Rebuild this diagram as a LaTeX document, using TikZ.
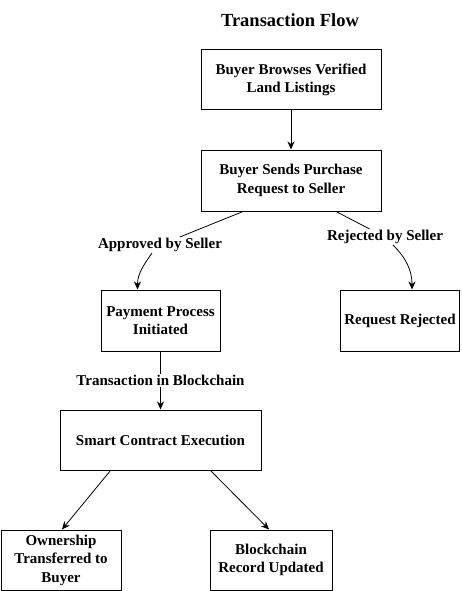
\documentclass[tikz,border=0pt]{standalone}
\usepackage{fontspec}
\setmainfont{Liberation Serif}
\usetikzlibrary{arrows.meta}
\begin{document}
\begin{tikzpicture}[x=1pt,y=-1pt,
  every node/.style={font=\fontsize{15}{18.5}\selectfont\bfseries, align=center},
  box/.style={draw, line width=1pt, rectangle, inner sep=2pt},
  lbl/.style={fill=white, inner sep=1pt},
  arr/.style={line width=0.8pt, -{Stealth[length=8pt,width=7pt,inset=2.5pt]}},
  ln/.style={line width=0.8pt}]
\useasboundingbox (0,0) rectangle (461,591);
\node (title) at (290,20) {\fontsize{18.5}{21}\selectfont Transaction Flow};
\node[box, minimum width=180pt, minimum height=60pt] (b1) at (291,80) {Buyer Browses Verified\\Land Listings};
\node[box, minimum width=180pt, minimum height=61pt] (b2) at (291,180.5) {Buyer Sends Purchase\\Request to Seller};
\node[box, minimum width=119pt, minimum height=61pt] (b3) at (160.5,320.5) {Payment Process\\Initiated};
\node[box, minimum width=119pt, minimum height=61pt] (b4) at (400,320.5) {Request Rejected};
\node[box, minimum width=201pt, minimum height=60pt] (b5) at (160.5,440) {Smart Contract Execution};
\node[box, minimum width=120pt, minimum height=60pt] (b6) at (61,560) {Ownership\\Transferred to\\Buyer};
\node[box, minimum width=122pt, minimum height=60pt] (b7) at (271,560) {Blockchain\\Record Updated};
\node[lbl] (l1) at (160,245) {Approved by Seller};
\node[lbl] (l2) at (385,237) {Rejected by Seller};
\draw[arr] (b1) -- (b2);
\draw[ln] ([xshift=-48pt]b2.south) -- (l1);
\draw[arr] ([xshift=-8pt]l1.south) to[out=235,in=90] ([xshift=-23pt]b3.north);
\draw[ln] ([xshift=45pt]b2.south) -- (l2);
\draw[arr] ([xshift=8pt]l2.south) to[out=-45,in=90] ([xshift=12pt]b4.north);
\draw[arr] (b3) -- node[lbl] {Transaction in Blockchain} (b5);
\draw[arr] ([xshift=-50pt]b5.south) -- ([xshift=1pt]b6.north);
\draw[arr] ([xshift=50pt]b5.south) -- ([xshift=-2pt]b7.north);
\end{tikzpicture}
\end{document}
